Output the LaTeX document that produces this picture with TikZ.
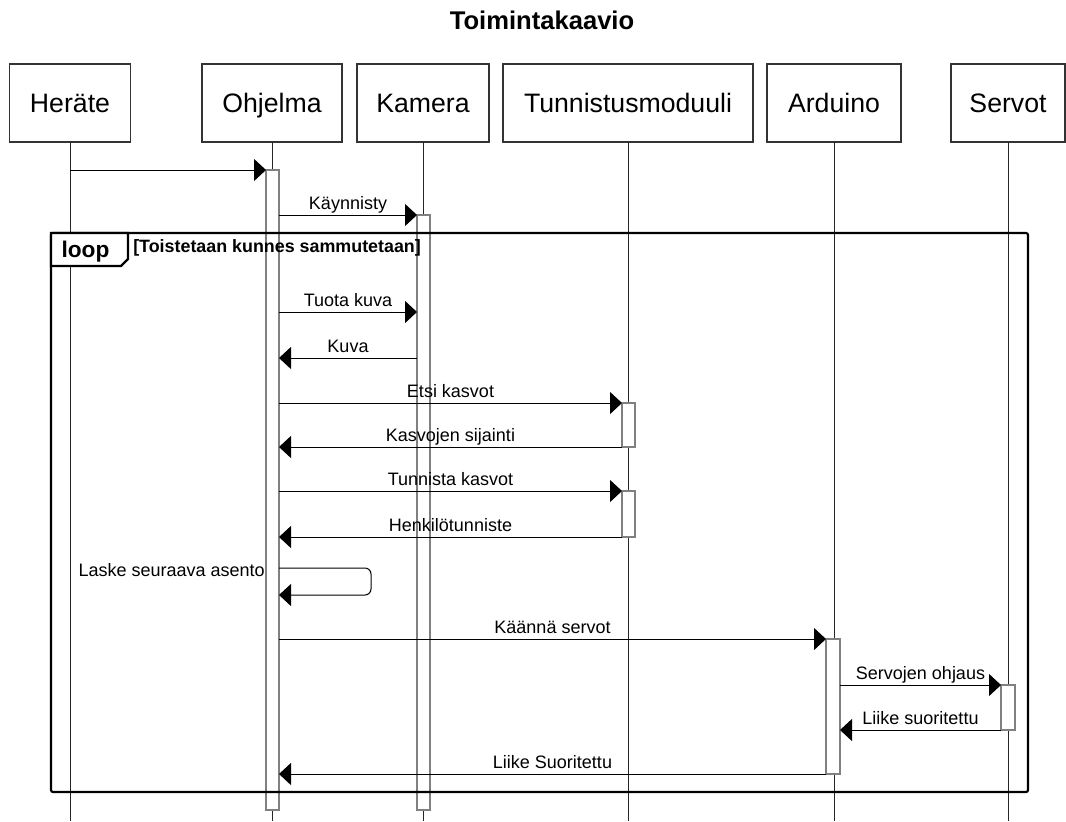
\documentclass[tikz,border=0pt]{standalone}
\usepackage{fontspec}
\setmainfont{Liberation Sans}
\usetikzlibrary{arrows.meta}
\begin{document}
\begin{tikzpicture}[x=0.75pt,y=-0.75pt,
  part/.style={draw=black!80, line width=1pt, fill=white, inner sep=0pt, outer sep=0pt,
    minimum height=58.5pt, text height=14.3pt, text depth=0pt, font=\fontsize{20}{24}\selectfont},
  life/.style={line width=0.75pt, draw=black!85},
  act/.style={draw=black!50, line width=1.1pt, fill=white, inner sep=0pt, outer sep=0pt, minimum width=9.75pt},
  msg/.style={line width=0.75pt, -{Triangle[length=9pt,width=16.5pt]}},
  lbl/.style={font=\fontsize{13.5}{16}\selectfont, anchor=base, inner sep=0pt, yshift=4.5pt},
  frameline/.style={line width=1.6pt, draw=black},
]
\useasboundingbox (0,0) rectangle (1066,821);

% title
\node[font=\bfseries\fontsize{19.2}{23}\selectfont, anchor=base, inner sep=0pt] (title) at (542,29) {Toimintakaavio};

% participants
\node[part, minimum width=90.75pt] (herate) at (70,103) {Heräte};
\node[part, minimum width=105pt] (ohjelma) at (272,103) {Ohjelma};
\node[part, minimum width=99pt] (kamera) at (423,103) {Kamera};
\node[part, minimum width=187.5pt] (tunnistus) at (628,103) {Tunnistusmoduuli};
\node[part, minimum width=100.5pt] (arduino) at (834,103) {Arduino};
\node[part, minimum width=85.5pt] (servot) at (1008,103) {Servot};

% lifelines
\coordinate (herate-end) at (70,821);
\coordinate (ohjelma-end) at (272,821);
\coordinate (kamera-end) at (423,821);
\coordinate (tunnistus-end) at (628,821);
\coordinate (arduino-end) at (834,821);
\coordinate (servot-end) at (1008,821);
\draw[life] (herate.south) -- (herate-end);
\draw[life] (ohjelma.south) -- (ohjelma-end);
\draw[life] (kamera.south) -- (kamera-end);
\draw[life] (tunnistus.south) -- (tunnistus-end);
\draw[life] (arduino.south) -- (arduino-end);
\draw[life] (servot.south) -- (servot-end);

% activations
\node[act, minimum height=480pt] (actO) at (272.5,490) {};
\node[act, minimum height=446.25pt] (actK) at (423.5,512.5) {};
\node[act, minimum height=33pt] (actT1) at (628.5,425) {};
\node[act, minimum height=34.5pt] (actT2) at (628.5,514) {};
\node[act, minimum width=10.5pt, minimum height=101.25pt] (actA) at (833,706.5) {};
\node[act, minimum width=10.5pt, minimum height=33.75pt] (actS) at (1008,707.5) {};

% loop frame
\draw[frameline, rounded corners=1.5pt] (51,233) rectangle (1028,792);
\draw[frameline, fill=white] (51,233) -- (128,233) -- (128,259) -- (121,266) -- (51,266) -- cycle;
\node[font=\bfseries\fontsize{17}{20}\selectfont, anchor=base, inner sep=0pt] (looplbl) at (85.5,257) {loop};
\node[font=\bfseries\fontsize{13.4}{16}\selectfont, anchor=base west, inner sep=0pt] (guard) at (133,252) {[Toistetaan kunnes sammutetaan]};

% message rows
\coordinate (y1) at (0,170);
\coordinate (y2) at (0,215);
\coordinate (y3) at (0,312);
\coordinate (y4) at (0,358);
\coordinate (y5) at (0,403);
\coordinate (y6) at (0,447);
\coordinate (y7) at (0,491);
\coordinate (y8) at (0,537);
\coordinate (y10) at (0,639);
\coordinate (y11) at (0,685);
\coordinate (y12) at (0,730);
\coordinate (y13) at (0,774);

\draw[msg] (herate.south |- y1) -- (actO.west |- y1);
\draw[msg] (actO.east |- y2) -- node[lbl] {Käynnisty} (actK.west |- y2);
\draw[msg] (actO.east |- y3) -- node[lbl] {Tuota kuva} (actK.west |- y3);
\draw[msg] (actK.west |- y4) -- node[lbl] {Kuva} (actO.east |- y4);
\draw[msg] (actO.east |- y5) -- node[lbl] {Etsi kasvot} (actT1.west |- y5);
\draw[msg] (actT1.west |- y6) -- node[lbl] {Kasvojen sijainti} (actO.east |- y6);
\draw[msg] (actO.east |- y7) -- node[lbl] {Tunnista kasvot} (actT2.west |- y7);
\draw[msg] (actT2.west |- y8) -- node[lbl] {Henkilötunniste} (actO.east |- y8);

% self message
\coordinate (s1) at (371,568);
\coordinate (s2) at (371,595);
\draw[msg, rounded corners=4.5pt] (actO.east |- s1) -- (s1) -- (s2) -- (actO.east |- s2);
\node[font=\fontsize{13.5}{16}\selectfont, anchor=base east, inner sep=0pt] (selflbl) at (265,576) {Laske seuraava asento};

\draw[msg] (actO.east |- y10) -- node[lbl] {Käännä servot} (actA.west |- y10);
\draw[msg] (actA.east |- y11) -- node[lbl] {Servojen ohjaus} (actS.west |- y11);
\draw[msg] (actS.west |- y12) -- node[lbl] {Liike suoritettu} (actA.east |- y12);
\draw[msg] (actA.west |- y13) -- node[lbl] {Liike Suoritettu} (actO.east |- y13);
\end{tikzpicture}
\end{document}
